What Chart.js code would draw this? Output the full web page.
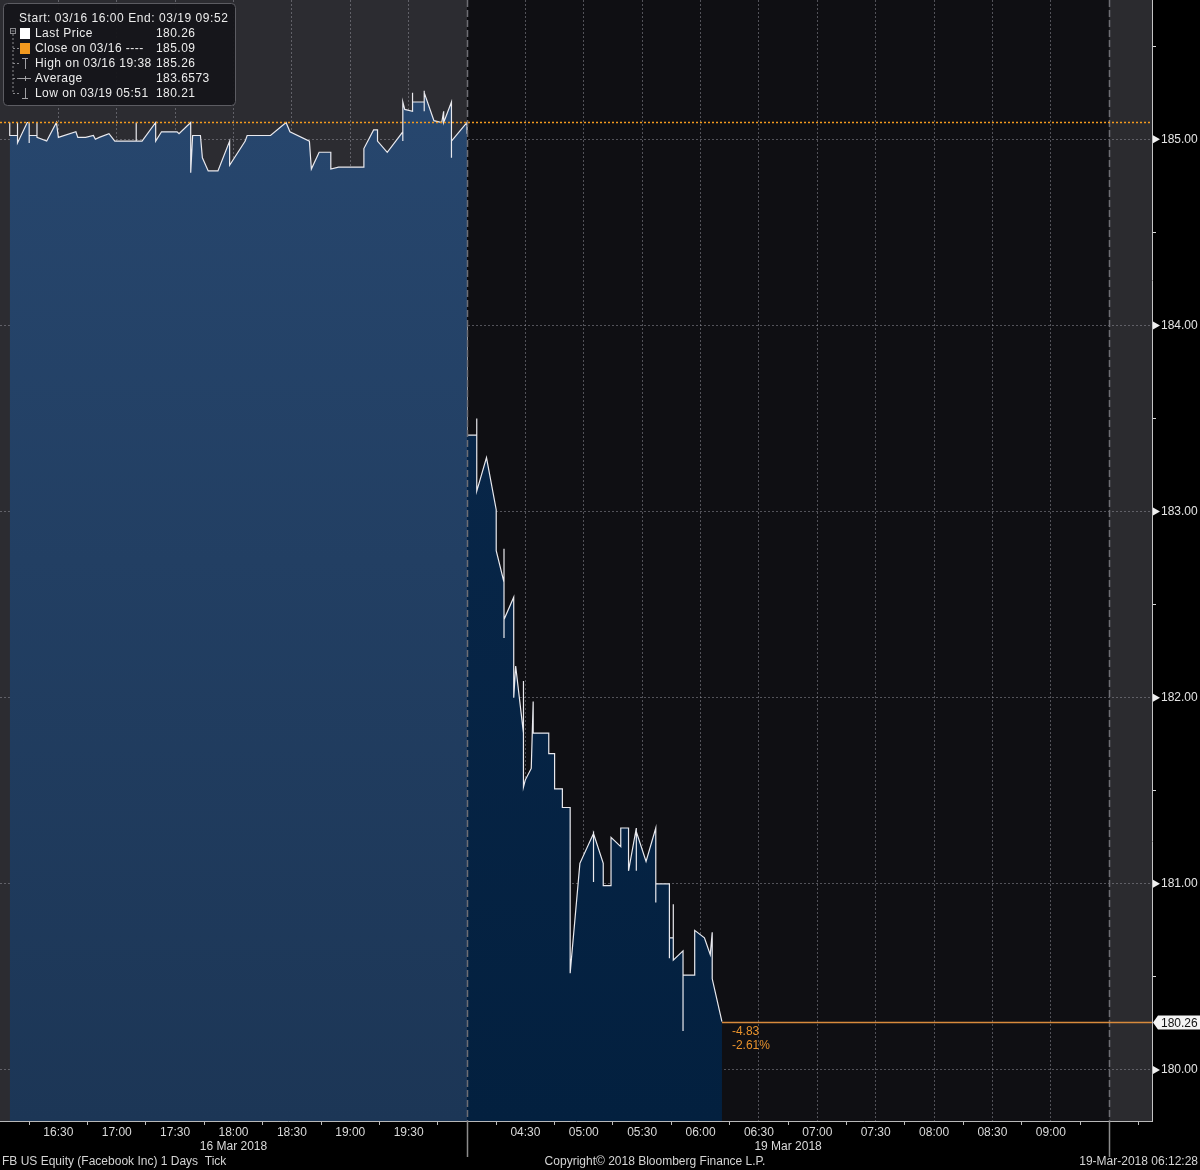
<!DOCTYPE html>
<html>
<head>
<meta charset="utf-8">
<script src="https://cdn.jsdelivr.net/npm/chart.js@4.4.1/dist/chart.umd.min.js"></script>
<style>
  html, body { margin: 0; padding: 0; background: #000; }
  #ChartFB { display: block; }
</style>
</head>
<body>
<canvas id="ChartFB" width="1200" height="1170"></canvas>
<script>
// ticks, 16 Mar after-hours session
const mar16Times = [
  '16:05','16:05','16:09','16:09','16:09','16:14','16:15','16:15','16:15','16:19',
  '16:19','16:19','16:24','16:29','16:30','16:39','16:40','16:44','16:48','16:49',
  '16:51','16:56','16:59','17:10','17:10','17:10','17:13','17:20','17:20','17:23',
  '17:31','17:32','17:38','17:38','17:39','17:43','17:44','17:47','17:52','17:58',
  '17:58','18:06','18:07','18:19','18:27','18:29','18:39','18:40','18:44','18:50',
  '18:50','18:54','19:07','19:07','19:12','19:14','19:14','19:19','19:27','19:27',
  '19:27','19:28','19:32','19:32','19:32','19:38','19:38','19:38','19:38','19:43',
  '19:47','19:48','19:48','19:52','19:52','19:52','20:00','20:00'
];
const mar16Prices = [
  185.09,185.02,185.02,185.09,184.98,185.09,185.09,184.98,185.02,185.02,
  185.09,185.01,184.99,185.09,185.01,185.04,185.01,185.01,185.02,185.00,
  185.01,185.03,184.99,184.99,185.09,184.99,184.99,185.09,184.99,185.04,
  185.04,185.03,185.09,184.82,185.02,185.02,184.90,184.83,184.83,184.99,
  184.86,184.99,185.02,185.02,185.09,185.04,184.99,184.84,184.93,184.93,
  184.84,184.85,184.85,184.95,185.05,185.05,184.99,184.93,185.04,184.99,
  185.20,185.16,185.15,185.25,185.20,185.20,185.26,185.15,185.25,185.10,
  185.09,185.15,185.09,185.20,184.90,184.99,185.09,185.03
];

// 19 Mar pre-market session
const mar19Times = [
  '04:00','04:00','04:05','04:05','04:05','04:10','04:15','04:15','04:19','04:19',
  '04:19','04:19','04:24','04:24','04:25','04:29','04:29','04:29','04:30','04:33',
  '04:34','04:34','04:42','04:42','04:45','04:45','04:49','04:49','04:53','04:53',
  '04:58','05:05','05:05','05:05','05:10','05:10','05:14','05:14','05:19','05:19',
  '05:23','05:23','05:27','05:27','05:27','05:32','05:37','05:37','05:37','05:44',
  '05:44','05:44','05:46','05:46','05:46','05:51','05:51','05:51','05:57','05:57',
  '06:02','06:05','06:06','06:06','06:11'
];
const mar19Prices = [
  184.00,183.41,183.41,183.50,183.11,183.29,183.01,182.79,182.62,182.80,
  182.32,182.42,182.54,182.00,182.17,181.81,182.09,181.52,181.56,181.62,
  181.98,181.81,181.81,181.70,181.70,181.51,181.51,181.41,181.41,180.52,
  181.11,181.27,181.01,181.27,181.11,180.99,180.99,181.25,181.20,181.30,
  181.30,181.07,181.30,181.07,181.28,181.12,181.30,180.90,181.00,181.00,
  180.60,180.71,180.71,180.89,180.59,180.64,180.21,180.51,180.51,180.75,
  180.71,180.62,180.74,180.49,180.26
];

const closePrice = 185.09;
const priceTicks = [180, 181, 182, 183, 184, 185];
const timeLabels16 = ['16:30','17:00','17:30','18:00','18:30','19:00','19:30'];
const timeLabels19 = ['04:30','05:00','05:30','06:00','06:30','07:00','07:30','08:00','08:30','09:00'];
const dateLabels = ['16 Mar 2018', '19 Mar 2018'];
const dateLabelTimes = [[16, '18:00'], [19, '06:45']];

const legendTitle = 'Start: 03/16 16:00 End: 03/19 09:52';
const legendLabels = ['Last Price', 'Close on 03/16 ----', 'High on 03/16 19:38', 'Average', 'Low on 03/19 05:51'];
const legendValues = ['180.26', '185.09', '185.26', '183.6573', '180.21'];

const footerLeft = 'FB US Equity (Facebook Inc) 1 Days  Tick';
const footerMid = 'Copyright\u00A9 2018 Bloomberg Finance L.P.';
const footerRight = '19-Mar-2018 06:12:28';

// 16:00-20:00 on 16 Mar sits right before 04:00 on 19 Mar on one axis
function sessionX(day, hhmm) {
    const [h, m] = hhmm.split(':').map(Number);
    const mins = h * 60 + m;
    return day === 16 ? mins - 960 : mins;
}
const SESSION_BREAK = sessionX(19, '04:00');
const MARKET_OPEN = sessionX(19, '09:30');
const AXIS_END = sessionX(19, '09:52');

const series16 = mar16Times.map((t, i) => ({ x: sessionX(16, t), y: mar16Prices[i] }));
const series19 = mar19Times.map((t, i) => ({ x: sessionX(19, t), y: mar19Prices[i] }));
const lastPrice = mar19Prices[mar19Prices.length - 1];
const lastX = series19[series19.length - 1].x;

const xLabels = {};
timeLabels16.forEach(t => { xLabels[sessionX(16, t)] = t; });
timeLabels19.forEach(t => { xLabels[sessionX(19, t)] = t; });
const xDateLabels = {};
dateLabelTimes.forEach(([d, t], i) => { xDateLabels[sessionX(d, t)] = dateLabels[i]; });

const FONT = '"Liberation Sans", Arial, sans-serif';
const gridColor = 'rgba(150,150,160,0.5)';
const orange = '#f39a1f';

Chart.defaults.font.family = FONT;
Chart.defaults.font.size = 12;

function vGrad(chart, top, bottom) {
    const a = chart.chartArea;
    if (!a) return top;
    const g = chart.ctx.createLinearGradient(0, a.top, 0, a.bottom);
    g.addColorStop(0, top);
    g.addColorStop(1, bottom);
    return g;
}

const backdrop = {
    id: 'backdrop',
    beforeDraw(chart) {
        const { ctx, chartArea: a, scales: { x } } = chart;
        ctx.save();
        ctx.fillStyle = '#000';
        ctx.fillRect(0, 0, chart.width, chart.height);
        const xb = x.getPixelForValue(SESSION_BREAK);
        const xo = x.getPixelForValue(MARKET_OPEN);
        ctx.fillStyle = '#2c2c31';
        ctx.fillRect(a.left, a.top, xb - a.left, a.bottom - a.top);
        ctx.fillStyle = '#0f0f13';
        ctx.fillRect(xb, a.top, xo - xb, a.bottom - a.top);
        ctx.fillStyle = '#2b2b2f';
        ctx.fillRect(xo, a.top, a.right - xo, a.bottom - a.top);
        ctx.restore();
    }
};

const overlay = {
    id: 'overlay',
    afterDraw(chart) {
        const { ctx, chartArea: a, scales: { x, y } } = chart;
        ctx.save();

        // session dividers
        [SESSION_BREAK, MARKET_OPEN].forEach(v => {
            const px = Math.round(x.getPixelForValue(v)) + 0.5;
            ctx.strokeStyle = '#6e6e74';
            ctx.lineWidth = 1.5;
            ctx.setLineDash([7, 3]);
            ctx.beginPath(); ctx.moveTo(px, a.top); ctx.lineTo(px, a.bottom); ctx.stroke();
            ctx.setLineDash([]);
            ctx.strokeStyle = '#8c8c8c';
            ctx.beginPath(); ctx.moveTo(px, a.bottom); ctx.lineTo(px, a.bottom + 36); ctx.stroke();
        });

        // previous close, dotted
        const yc = Math.round(y.getPixelForValue(closePrice)) + 0.5;
        ctx.strokeStyle = orange;
        ctx.lineWidth = 1.5;
        ctx.setLineDash([2, 2]);
        ctx.beginPath(); ctx.moveTo(a.left, yc); ctx.lineTo(a.right, yc); ctx.stroke();
        ctx.setLineDash([]);

        // last price line and tag
        const yl = Math.round(y.getPixelForValue(lastPrice)) + 0.5;
        const xl = x.getPixelForValue(lastX);
        ctx.strokeStyle = '#d88a3c';
        ctx.lineWidth = 1.5;
        ctx.beginPath(); ctx.moveTo(xl, yl); ctx.lineTo(a.right, yl); ctx.stroke();

        ctx.fillStyle = '#f4f4f4';
        ctx.beginPath();
        ctx.moveTo(a.right + 1, yl);
        ctx.lineTo(a.right + 6, yl - 7);
        ctx.lineTo(chart.width, yl - 7);
        ctx.lineTo(chart.width, yl + 7);
        ctx.lineTo(a.right + 6, yl + 7);
        ctx.closePath();
        ctx.fill();
        ctx.fillStyle = '#111';
        ctx.font = '12px ' + FONT;
        ctx.textBaseline = 'middle';
        ctx.textAlign = 'left';
        ctx.fillText(lastPrice.toFixed(2), a.right + 9, yl + 1);

        const change = lastPrice - closePrice;
        ctx.fillStyle = '#e8922c';
        ctx.fillText(change.toFixed(2), xl + 10, yl + 9);
        ctx.fillText((change / closePrice * 100).toFixed(2) + '%', xl + 10, yl + 23);

        // pointers on the price axis
        ctx.fillStyle = '#f0f0f0';
        priceTicks.forEach(v => {
            const py = y.getPixelForValue(v);
            ctx.beginPath();
            ctx.moveTo(a.right + 1, py - 4);
            ctx.lineTo(a.right + 8, py);
            ctx.lineTo(a.right + 1, py + 4);
            ctx.closePath();
            ctx.fill();
        });

        // legend box
        ctx.fillStyle = 'rgba(22,22,26,0.96)';
        ctx.strokeStyle = '#5c5c62';
        ctx.lineWidth = 1;
        ctx.beginPath();
        ctx.roundRect(3.5, 3.5, 232, 102, 4);
        ctx.fill();
        ctx.stroke();

        ctx.fillStyle = '#ececec';
        ctx.font = '12px ' + FONT;
        ctx.letterSpacing = '0.55px';
        ctx.fillText(legendTitle, 19, 19);

        // tree lines
        ctx.strokeStyle = '#8a8a8e';
        ctx.strokeRect(10.5, 28.5, 5, 5);
        ctx.beginPath(); ctx.moveTo(11.5, 31); ctx.lineTo(14.5, 31); ctx.stroke();
        ctx.setLineDash([2, 2]);
        ctx.beginPath(); ctx.moveTo(13, 34); ctx.lineTo(13, 93); ctx.stroke();
        for (let i = 1; i < legendLabels.length; i++) {
            const ry = 33 + i * 15 + 0.5;
            ctx.beginPath(); ctx.moveTo(13, ry); ctx.lineTo(19, ry); ctx.stroke();
        }
        ctx.setLineDash([]);

        ctx.letterSpacing = '0.45px';
        legendLabels.forEach((lab, i) => {
            const ry = 34 + i * 15;
            ctx.fillStyle = '#ececec';
            ctx.fillText(lab, 35, ry);
            ctx.fillText(legendValues[i], 156, ry);
        });
        ctx.letterSpacing = '0px';
        ctx.fillStyle = '#ffffff';
        ctx.fillRect(20, 28, 10, 11);
        ctx.fillStyle = orange;
        ctx.fillRect(20, 43, 10, 11);
        ctx.strokeStyle = '#a0a0a4';
        ctx.beginPath();
        ctx.moveTo(22, 58.5); ctx.lineTo(28, 58.5);
        ctx.moveTo(25.5, 58); ctx.lineTo(25.5, 69);
        ctx.moveTo(19, 78.5); ctx.lineTo(31, 78.5);
        ctx.moveTo(25.5, 76); ctx.lineTo(25.5, 81);
        ctx.moveTo(25.5, 88); ctx.lineTo(25.5, 98);
        ctx.moveTo(22, 98.5); ctx.lineTo(28, 98.5);
        ctx.stroke();

        // footer
        ctx.fillStyle = '#d4d4d4';
        ctx.font = '12px ' + FONT;
        ctx.textAlign = 'left';
        ctx.fillText(footerLeft, 2, 1162);
        ctx.textAlign = 'center';
        ctx.fillText(footerMid, 655, 1162);
        ctx.textAlign = 'right';
        ctx.fillText(footerRight, 1198, 1162);

        ctx.restore();
    }
};

const ctx = document.getElementById('ChartFB').getContext('2d');
const chartFB = new Chart(ctx, {
    type: 'line',
    data: {
        datasets: [{
            label: '16 Mar',
            data: series16,
            borderColor: '#e9e9ee',
            borderWidth: 1.2,
            pointRadius: 0,
            tension: 0,
            fill: 'start',
            backgroundColor: (c) => vGrad(c.chart, '#284870', '#1c3656')
        },
        {
            label: '19 Mar',
            data: series19,
            borderColor: '#e9e9ee',
            borderWidth: 1.2,
            pointRadius: 0,
            tension: 0,
            fill: 'start',
            backgroundColor: (c) => vGrad(c.chart, '#0b2a4e', '#03203f')
        }]
    },
    options: {
        responsive: false,
        animation: false,
        devicePixelRatio: 1,
        layout: { padding: 0 },
        plugins: {
            legend: { display: false },
            tooltip: { enabled: false }
        },
        scales: {
            x: {
                type: 'linear',
                min: 0,
                max: AXIS_END,
                z: 1,
                afterBuildTicks: (scale) => {
                    const list = [];
                    for (let v = 15; v < AXIS_END; v += 15) {
                        if (v === SESSION_BREAK || v === MARKET_OPEN) continue;
                        list.push({ value: v, major: xLabels[v] !== undefined });
                    }
                    scale.ticks = list;
                },
                afterFit: (scale) => {
                    scale.height = 49;
                    scale.paddingLeft = 0;
                    scale.paddingRight = 0;
                },
                ticks: {
                    autoSkip: false,
                    maxRotation: 0,
                    padding: 0,
                    color: '#dadada',
                    font: { size: 12 },
                    callback: (v) => {
                        const t = xLabels[v] || '';
                        return xDateLabels[v] ? [t, xDateLabels[v]] : t;
                    }
                },
                grid: {
                    color: (c) => (c.tick && c.tick.major) ? gridColor : 'rgba(0,0,0,0)',
                    tickColor: (c) => (c.tick && c.tick.major) ? 'rgba(0,0,0,0)' : '#bdbdbd',
                    tickLength: 4,
                    lineWidth: 1
                },
                border: { display: true, color: '#b8b8b8', width: 1, dash: [2, 2] }
            },
            y: {
                position: 'right',
                min: 179.726,
                max: 185.748,
                z: 1,
                afterBuildTicks: (scale) => {
                    const list = [];
                    priceTicks.forEach(v => {
                        list.push({ value: v, major: true });
                        if (v + 0.5 < scale.max) list.push({ value: v + 0.5, major: false });
                    });
                    scale.ticks = list;
                },
                afterFit: (scale) => {
                    scale.width = 48;
                    scale.paddingTop = 0;
                    scale.paddingBottom = 0;
                },
                ticks: {
                    padding: 5,
                    color: '#e4e4e4',
                    font: { size: 12 },
                    callback: (v) => Number.isInteger(v) ? v.toFixed(2) : ''
                },
                grid: {
                    color: (c) => (c.tick && c.tick.major) ? gridColor : 'rgba(0,0,0,0)',
                    tickColor: (c) => (c.tick && c.tick.major) ? 'rgba(0,0,0,0)' : '#d8d8d8',
                    tickLength: 4,
                    lineWidth: 1
                },
                border: { display: true, color: '#c4c4c4', width: 1, dash: [2, 2] }
            }
        }
    },
    plugins: [backdrop, overlay]
});
</script>
</body>
</html>
